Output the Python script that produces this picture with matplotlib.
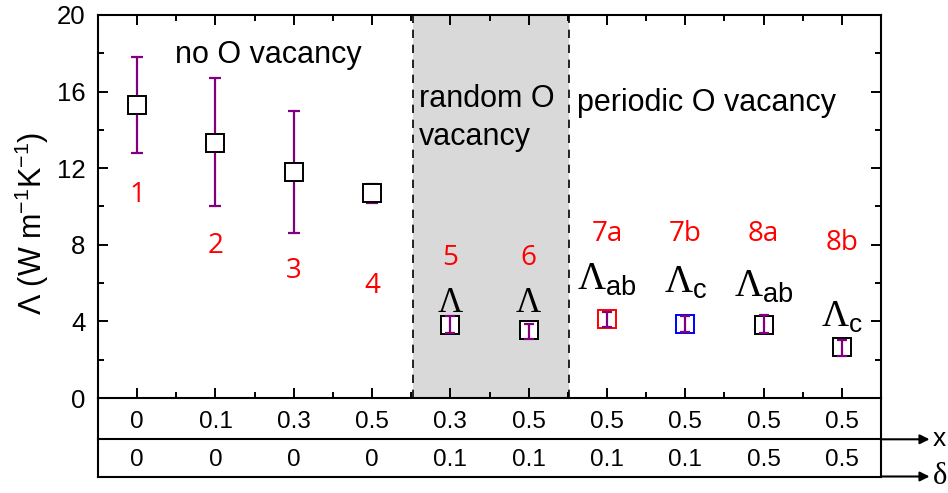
import numpy as np
import matplotlib.pyplot as plt
from matplotlib.ticker import MultipleLocator, FixedLocator

plt.rcParams['font.family'] = ['Liberation Sans', 'DejaVu Sans']
plt.rcParams['mathtext.fontset'] = 'custom'
plt.rcParams['mathtext.rm'] = 'Liberation Serif'
plt.rcParams['mathtext.sf'] = 'Liberation Sans'

# data
samples = ['1', '2', '3', '4', '5', '6', '7a', '7b', '8a', '8b']
kappa = [15.3, 13.3, 11.8, 10.7, 3.8, 3.55, 4.1, 3.85, 3.8, 2.65]
kappa_hi = [17.8, 16.7, 15.0, 11.2, 4.28, 3.85, 4.48, 4.28, 4.33, 3.03]
kappa_lo = [12.78, 10.0, 8.6, 10.17, 3.38, 3.08, 3.69, 3.46, 3.38, 2.19]
edge = ['k', 'k', 'k', 'k', 'k', 'k', 'red', 'blue', 'k', 'k']
x_vals = ['0', '0.1', '0.3', '0.5', '0.3', '0.5', '0.5', '0.5', '0.5', '0.5']
delta_vals = ['0', '0', '0', '0', '0.1', '0.1', '0.1', '0.1', '0.5', '0.5']
lam_labels = ['', '', '', '', r'$\mathrm{\Lambda}$', r'$\mathrm{\Lambda}$',
              r'$\mathrm{\Lambda}_{\mathsf{ab}}$', r'$\mathrm{\Lambda}_{\mathsf{c}}$',
              r'$\mathrm{\Lambda}_{\mathsf{ab}}$', r'$\mathrm{\Lambda}_{\mathsf{c}}$']

# label placement (baseline, data units)
num_y = [10.25, 7.55, 6.25, 5.5, 6.95, 6.95, 8.2, 8.2, 8.2, 7.75]
lam_y = [0, 0, 0, 0, 4.5, 4.5, 5.65, 5.5, 5.28, 3.72]
lam_size = [0, 0, 0, 0, 25, 25, 28, 28, 28, 27]

fig = plt.figure(figsize=(9.48, 4.93), dpi=100)
ax = fig.add_axes([98 / 948, 95 / 493, 783 / 948, 383 / 493])

pos = np.arange(1, len(samples) + 1)

ax.axvspan(4.52, 6.52, color='#d9d9d9', zorder=0, lw=0)
ax.axvline(4.52, color='k', ls=(0, (5, 4)), lw=1.2, zorder=1)
ax.axvline(6.52, color='k', ls=(0, (5, 4)), lw=1.2, zorder=1)

for i in range(len(samples)):
    big = i < 4
    ax.errorbar(pos[i], kappa[i],
                yerr=[[kappa[i] - kappa_lo[i]], [kappa_hi[i] - kappa[i]]],
                fmt='none', ecolor='#800080', elinewidth=1.6,
                capsize=4.5 if big else 3.5, capthick=1.6,
                zorder=3 if big else 5)
    ax.plot(pos[i], kappa[i], 's', ms=12.5, mfc='white', mec=edge[i],
            mew=1.4, zorder=4)

    ax.text(pos[i], num_y[i], samples[i], color='red', fontsize=20,
            family='Open Sans', ha='center', va='baseline')
    if lam_labels[i]:
        ax.text(pos[i], lam_y[i], lam_labels[i], fontsize=lam_size[i],
                ha='center', va='baseline')

ax.text(0.5 + (175 - 98) / 78.2, 17.9, 'no O vacancy', fontsize=22, va='center')
ax.text(4.52 + 6 / 78.2, 15.6, 'random O', fontsize=22, va='center')
ax.text(4.52 + 6 / 78.2, 13.65, 'vacancy', fontsize=22, va='center')
ax.text(6.52 + 8 / 78.2, 15.4, 'periodic O vacancy', fontsize=22, va='center')

ax.set_xlim(0.5, 10.5)
ax.set_ylim(0, 20)
ax.xaxis.set_major_locator(FixedLocator(pos))
ax.xaxis.set_minor_locator(FixedLocator(pos[:-1] + 0.5))
ax.yaxis.set_major_locator(MultipleLocator(4))
ax.yaxis.set_minor_locator(MultipleLocator(2))
ax.tick_params(which='both', direction='in', top=True, right=True, width=1.4)
ax.tick_params(which='major', length=7, labelsize=18.5, pad=9)
ax.tick_params(which='minor', length=4)
ax.tick_params(axis='x', labelbottom=False)
for s in ax.spines.values():
    s.set_linewidth(1.5)

fig.text(32 / 948, 1 - 223 / 493, r'Λ (W m$^{\mathsf{-1}}$K$^{\mathsf{-1}}$)',
         fontsize=22, rotation=90, ha='center', va='center')

# table below the axis
y_mid = (398 - 439.3) / 383
y_bot = (398 - 476.5) / 383
tr = ax.transAxes
for yy in (y_mid, y_bot):
    ax.plot([0, 1], [yy, yy], color='k', lw=1.5, transform=tr, clip_on=False)
    ax.annotate('', xy=(1.062, yy), xytext=(1.0, yy), xycoords='axes fraction',
                arrowprops=dict(arrowstyle='-|>', color='k', lw=1.5,
                                mutation_scale=14, shrinkA=0, shrinkB=0))
ax.plot([0, 0], [0, y_bot], color='k', lw=1.5, transform=tr, clip_on=False)
ax.plot([1, 1], [0, y_bot], color='k', lw=1.5, transform=tr, clip_on=False)

bt = ax.get_xaxis_transform()
for i in range(len(samples)):
    ax.text(pos[i], (398 - 422.5) / 383, x_vals[i], fontsize=17.5,
            ha='center', va='center', transform=bt)
    ax.text(pos[i], (398 - 460) / 383, delta_vals[i], fontsize=17.5,
            ha='center', va='center', transform=bt)

ax.text(1.066, y_mid, 'x', fontsize=19, ha='left', va='center', transform=tr)
ax.text(1.066, y_bot, 'δ', fontsize=22, ha='left', va='center',
        transform=tr, family='Liberation Serif')

fig.savefig('out.png', dpi=100)
